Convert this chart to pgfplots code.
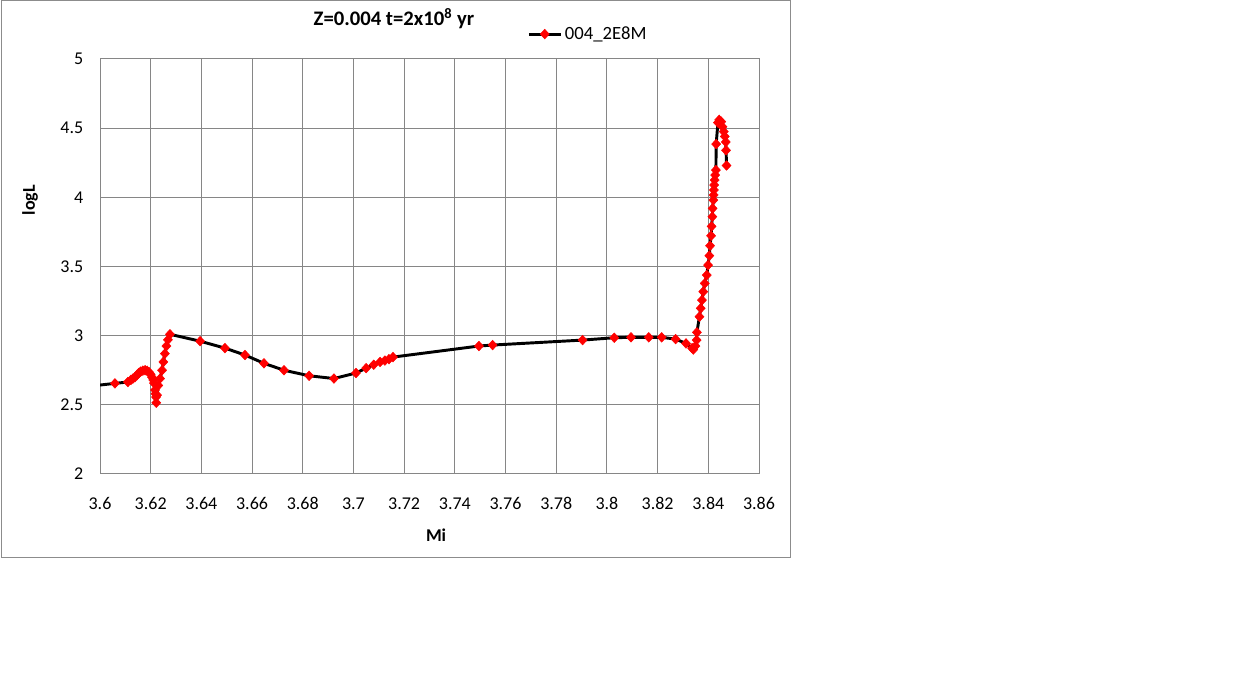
\documentclass[border=0pt]{standalone}
\usepackage{pgfplots}
\pgfplotsset{compat=1.18}
\usepackage{fontspec}
\setmainfont{Carlito}
\definecolor{gridgray}{HTML}{868686}
\definecolor{framegray}{HTML}{8C8C8C}
\begin{document}
\begin{tikzpicture}
\path[use as bounding box] (0,0) rectangle (937.5pt,521.25pt);
\draw[framegray, line width=0.75pt] (0.75pt,103pt) rectangle (592.5pt,520.5pt);
\begin{axis}[
  at={(75pt,165.75pt)}, anchor=south west,
  scale only axis, width=494.25pt, height=311.25pt,
  xmin=3.6, xmax=3.86, ymin=2, ymax=5,
  xtick={3.6,3.62,...,3.861}, ytick={2,2.5,...,5},
  xticklabels={3.6,3.62,3.64,3.66,3.68,3.7,3.72,3.74,3.76,3.78,3.8,3.82,3.84,3.86},
  yticklabels={2,2.5,3,3.5,4,4.5,5},
  major tick length=0pt,
  grid=major,
  grid style={gridgray, line width=0.75pt},
  axis line style={gridgray, line width=0.75pt},
  tick label style={font=\fontsize{13.5}{16}\selectfont, black},
  xticklabel style={yshift=-14pt},
  yticklabel style={xshift=-9pt},
  title={\textbf{Z=0.004 t=2x10\textsuperscript{8} yr}},
  title style={font=\fontsize{15.5}{18}\selectfont, at={(axis description cs:0.446,1.077)}, anchor=center},
  xlabel={\textbf{Mi}},
  xlabel style={font=\fontsize{13.5}{16}\selectfont, at={(axis description cs:0.51,-0.147)}, anchor=center},
  ylabel={\textbf{logL}},
  ylabel style={font=\fontsize{13.5}{16}\selectfont, at={(axis description cs:-0.106,0.66)}, anchor=center, rotate=0},
  legend style={draw=none, fill=none, at={(axis description cs:0.648,1.06)}, anchor=west, inner sep=0pt,
    font=\fontsize{14}{16}\selectfont},
  legend image code/.code={%
    \draw[#1,mark=none] (0pt,0pt) -- (24pt,0pt);
    \draw[#1,mark indices={0,1,2}] plot coordinates {(12pt,0pt)};},
]
\addplot[black, line width=2.2pt, mark=diamond*, mark size=3.6pt,
  mark options={red, fill=red, line width=0.4pt, xscale=1.25}, mark indices={1,...,200}] coordinates {
(3.595,2.633)
(3.6059,2.655)
(3.611,2.665)
(3.6122,2.68)
(3.613,2.69)
(3.6138,2.70)
(3.6146,2.715)
(3.6153,2.73)
(3.616,2.74)
(3.6169,2.747)
(3.6178,2.75)
(3.6186,2.746)
(3.6193,2.737)
(3.6200,2.72)
(3.6205,2.70)
(3.6210,2.68)
(3.6213,2.657)
(3.6217,2.607)
(3.6219,2.58)
(3.6221,2.556)
(3.6222,2.515)
(3.6225,2.57)
(3.623,2.64)
(3.6237,2.69)
(3.6245,2.75)
(3.625,2.81)
(3.6256,2.87)
(3.6262,2.925)
(3.6268,2.97)
(3.6276,3.01)
(3.6395,2.96)
(3.6493,2.91)
(3.6572,2.86)
(3.6647,2.80)
(3.6726,2.75)
(3.6825,2.71)
(3.6923,2.69)
(3.701,2.73)
(3.705,2.765)
(3.708,2.79)
(3.7105,2.81)
(3.7124,2.82)
(3.714,2.83)
(3.7156,2.845)
(3.7495,2.925)
(3.7549,2.932)
(3.7904,2.968)
(3.8029,2.985)
(3.8095,2.988)
(3.8165,2.988)
(3.8216,2.988)
(3.8271,2.975)
(3.8312,2.944)
(3.8336,2.91)
(3.8341,2.90)
(3.8349,2.925)
(3.8354,2.968)
(3.8355,3.024)
(3.8365,3.137)
(3.837,3.198)
(3.8375,3.257)
(3.838,3.318)
(3.8386,3.378)
(3.8394,3.438)
(3.8399,3.51)
(3.8404,3.578)
(3.8407,3.65)
(3.8411,3.722)
(3.8413,3.79)
(3.8416,3.86)
(3.8417,3.92)
(3.842,3.98)
(3.8421,4.017)
(3.8422,4.053)
(3.8423,4.089)
(3.8425,4.125)
(3.8427,4.161)
(3.843,4.197)
(3.8431,4.385)
(3.8438,4.54)
(3.8443,4.56)
(3.8451,4.547)
(3.8456,4.51)
(3.8461,4.475)
(3.8465,4.44)
(3.8469,4.40)
(3.847,4.34)
(3.8472,4.23)
};
\addlegendentry{004\_2E8M}
\end{axis}
\end{tikzpicture}
\end{document}
